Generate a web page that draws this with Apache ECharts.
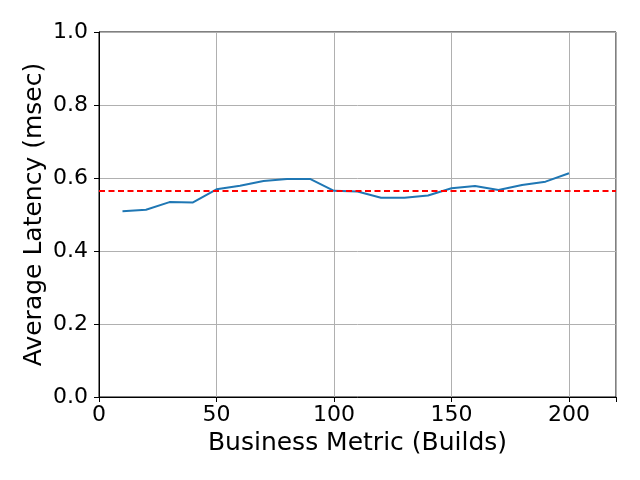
<!DOCTYPE html>
<html><head><meta charset="utf-8">
<script src="https://cdn.jsdelivr.net/npm/echarts@6/dist/echarts.min.js"></script>
<style>html,body{margin:0;padding:0;background:#fff}#c{width:640px;height:480px}</style>
</head><body><div id="c"></div>
<script>
const xValues = [10,20,30,40,50,60,70,80,90,100,110,120,130,140,150,160,170,180,190,200];
const latency = [0.509,0.513,0.534,0.533,0.569,0.579,0.592,0.597,0.597,0.565,0.563,0.546,0.546,0.552,0.572,0.578,0.567,0.581,0.590,0.613];
const meanLatency = 0.565;
const xTicks = [0,50,100,150,200];
const yTicks = [0,0.2,0.4,0.6,0.8,1.0];

const chart = echarts.init(document.getElementById('c'));
const font = 'DejaVu Sans';
chart.setOption({
  animation: false,
  grid: {left: 99, right: 24, top: 32, bottom: 83, show: true, borderColor: '#000', borderWidth: 1, backgroundColor: 'transparent'},
  xAxis: {
    type: 'value', min: 0, max: 220, interval: 50,
    name: 'Business Metric (Builds)', nameLocation: 'middle', nameGap: 34, nameMoveOverlap: false,
    nameTextStyle: {fontFamily: font, fontSize: 25, color: '#000'},
    axisLine: {show: true, onZero: false, lineStyle: {color: '#000', width: 1}},
    axisTick: {show: true, length: 5, lineStyle: {color: '#000'}},
    axisLabel: {fontFamily: font, fontSize: 22, color: '#000', margin: 7,
      formatter: v => xTicks.includes(v) ? String(v) : ''},
    splitLine: {show: true, lineStyle: {color: '#b0b0b0', width: 1}}
  },
  yAxis: {
    type: 'value', min: 0, max: 1, interval: 0.2,
    name: 'Average Latency (msec)', nameLocation: 'middle', nameGap: 52, nameMoveOverlap: false,
    nameTextStyle: {fontFamily: font, fontSize: 25, color: '#000'},
    axisLine: {show: true, lineStyle: {color: '#000', width: 1}},
    axisTick: {show: true, length: 5, lineStyle: {color: '#000'}},
    axisLabel: {fontFamily: font, fontSize: 22, color: '#000', margin: 11,
      formatter: v => v.toFixed(1)},
    splitLine: {show: true, lineStyle: {color: '#b0b0b0', width: 1}}
  },
  series: [{
    type: 'line',
    data: xValues.map((x, i) => [x, latency[i]]),
    showSymbol: false, symbol: 'none',
    lineStyle: {color: '#1f77b4', width: 2},
    markLine: {
      silent: true, symbol: 'none', label: {show: false}, precision: 4,
      lineStyle: {color: '#ff0000', type: [6, 3.5], width: 2},
      data: [{yAxis: meanLatency}]
    }
  }]
});
</script></body></html>
